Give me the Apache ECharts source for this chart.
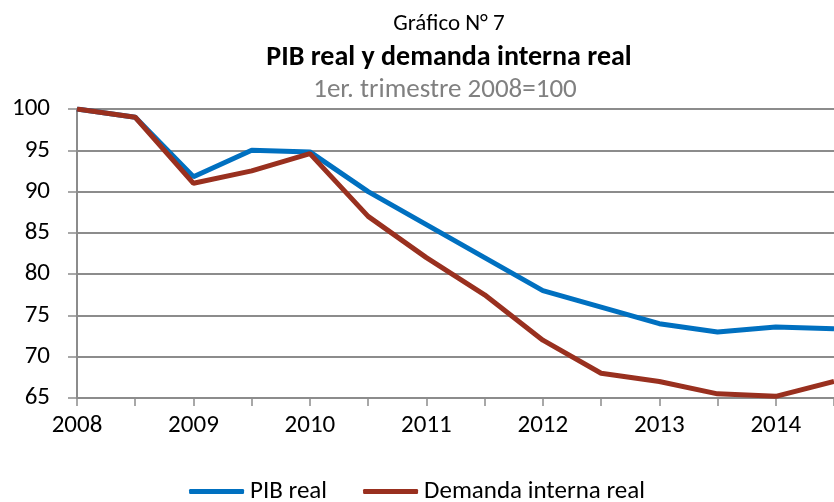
<!DOCTYPE html>
<html>
<head>
<meta charset="utf-8">
<script src="https://cdn.jsdelivr.net/npm/echarts@6/dist/echarts.min.js"></script>
<style>
html, body { margin: 0; padding: 0; background: #fff; }
#chart { width: 834px; height: 502px; }
</style>
</head>
<body>
<div id="chart"></div>
<script>
// semestres 2008 - 2014.5
var categories = ['2008', '', '2009', '', '2010', '', '2011', '', '2012', '', '2013', '', '2014', '']
var pibReal = [100, 99, 91.8, 95, 94.8, 90, 86, 82, 78, 76, 74, 73, 73.6, 73.4]
var demandaInterna = [100, 99, 91, 92.5, 94.6, 87, 82, 77.5, 72, 68, 67, 65.5, 65.2, 67]

var font = "Carlito, 'Liberation Sans Narrow', 'Open Sans', sans-serif"

var chart = echarts.init(document.getElementById('chart'))
var option = {
  animation: false,
  title: [
    { text: 'Gráfico N° 7', left: 444, textAlign: 'center', top: 8,
      textStyle: { fontFamily: font, fontSize: 23, fontWeight: 'normal', color: '#000' } },
    { text: 'PIB real y demanda interna real', left: 444, textAlign: 'center', top: 39,
      textStyle: { fontFamily: font, fontSize: 28, fontWeight: 'bold', color: '#000' } },
    { text: '1er. trimestre 2008=100', left: 440, textAlign: 'center', top: 72,
      textStyle: { fontFamily: font, fontSize: 27, fontWeight: 'normal', color: '#808080' } }
  ],
  grid: { left: 77, right: 0, top: 109, bottom: 104, containLabel: false, outerBoundsMode: 'none' },
  legend: {
    top: 474,
    left: 'center',
    itemWidth: 55,
    itemHeight: 5,
    itemGap: 36,
    icon: 'roundRect',
    textStyle: { fontFamily: font, fontSize: 25, color: '#000', padding: [0, 0, 0, 1] },
    data: ['PIB real', 'Demanda interna real']
  },
  xAxis: {
    type: 'category',
    boundaryGap: false,
    data: categories,
    axisLine: { lineStyle: { color: '#8c8c8c', width: 2 } },
    axisTick: { show: true, interval: 0, length: 8, lineStyle: { color: '#8c8c8c', width: 1.5 } },
    axisLabel: { interval: 0, margin: 15, fontFamily: font, fontSize: 25, color: '#000' },
    splitLine: { show: false }
  },
  yAxis: {
    type: 'value',
    min: 65,
    max: 100,
    interval: 5,
    axisLine: { show: true, lineStyle: { color: '#8c8c8c', width: 2 } },
    axisTick: { show: true, length: 9, lineStyle: { color: '#8c8c8c', width: 1.5 } },
    axisLabel: { margin: 27, fontFamily: font, fontSize: 25, color: '#000' },
    splitLine: { show: true, lineStyle: { color: '#8c8c8c', width: 2 } }
  },
  series: [
    {
      name: 'PIB real',
      type: 'line',
      data: pibReal,
      symbol: 'none',
      color: '#0070C0',
      lineStyle: { color: '#0070C0', width: 5 }
    },
    {
      name: 'Demanda interna real',
      type: 'line',
      data: demandaInterna,
      symbol: 'none',
      color: '#99301F',
      lineStyle: { color: '#99301F', width: 5 }
    }
  ]
}
chart.setOption(option, true)
</script>
</body>
</html>
